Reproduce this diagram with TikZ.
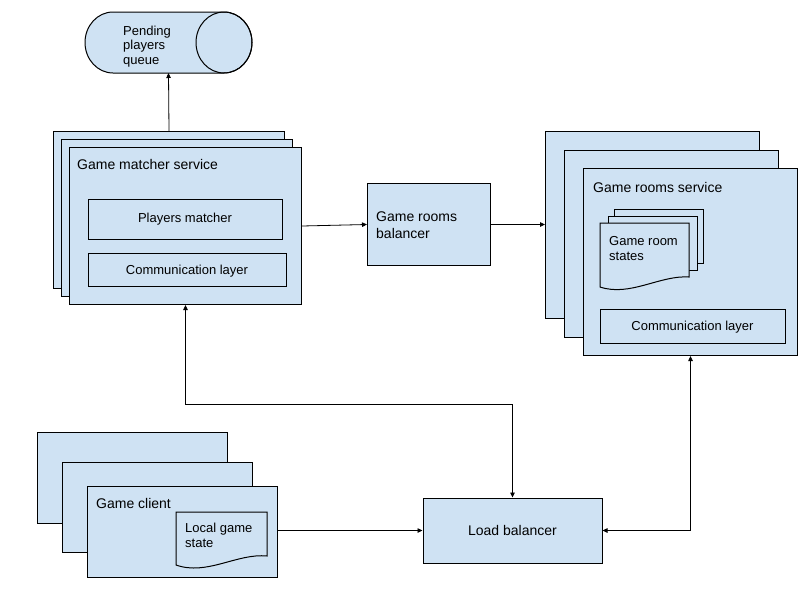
\documentclass[tikz,border=0pt]{standalone}
\usepackage{fontspec}
\setmainfont{Liberation Sans}
\usetikzlibrary{arrows.meta}
\definecolor{paleblue}{HTML}{CFE2F3}
\begin{document}
\begin{tikzpicture}[x=1pt,y=-1pt,
 box/.style={draw=black, fill=paleblue, line width=1pt, inner sep=0pt, anchor=north west},
 shapeline/.style={draw=black, fill=paleblue, line width=1pt},
 big/.style={inner sep=0pt, font=\fontsize{14}{17}\selectfont, align=left},
 small/.style={inner sep=0pt, font=\fontsize{13}{15}\selectfont, align=left},
 arr/.style={line width=0.8pt, -{Triangle[length=5pt,width=4.5pt]}},
 arrb/.style={line width=0.8pt, {Triangle[length=5pt,width=4.5pt]}-{Triangle[length=5pt,width=4.5pt]}}]
\useasboundingbox (0,0) rectangle (800,600);

% Pending players queue (horizontal cylinder)
\draw[shapeline] (113,12) -- (224,12) arc[start angle=-90,end angle=90,x radius=28,y radius=30.5]
  -- (113,73) arc[start angle=90,end angle=270,x radius=28,y radius=30.5] -- cycle;
\draw[line width=1pt] (224,42.5) ellipse[x radius=28,y radius=30.5];
\node[small, anchor=north west, font=\fontsize{13}{14.5}\selectfont] (queue) at (123,25.5) {Pending\\players\\queue};
\coordinate (queuebottom) at (168.5,73);

% Game matcher service stack
\node[box, minimum width=231, minimum height=157] (mback) at (53,131) {};
\node[box, minimum width=231, minimum height=157] (mmid) at (61,139) {};
\node[box, minimum width=232, minimum height=157] (mfront) at (69,147) {};
\node[big, anchor=base west] (mtitle) at (77,169.5) {Game matcher service};
\node[box, minimum width=194, minimum height=40, anchor=center, font=\fontsize{13}{15}\selectfont] (pmatch) at (185,219) {Players matcher};
\node[box, minimum width=198, minimum height=33, anchor=center, text depth=0pt, font=\fontsize{13}{15}\selectfont] (mcomm) at (187,269.5) {Communication layer};

% Game rooms balancer
\node[box, minimum width=123, minimum height=82] (bal) at (367,183) {};
\node[big, anchor=north west] (baltext) at (376,211.3) {Game rooms\\balancer};

% Game rooms service stack
\node[box, minimum width=214, minimum height=187] (rback) at (545,131) {};
\node[box, minimum width=214, minimum height=187] (rmid) at (564,150) {};
\node[box, minimum width=214, minimum height=187] (rfront) at (583,168) {};
\node[big, anchor=base west] (rtitle) at (593,192) {Game rooms service};
\node[box, minimum width=89, minimum height=54] (doc3) at (614,209) {};
\node[box, minimum width=89, minimum height=54] (doc2) at (608,216) {};
\draw[shapeline] (600,223) -- (689,223) -- (689,277) .. controls (660,275) and (630,297) .. (600,287) -- cycle;
\node[small, anchor=north west] (roomstates) at (609,236) {Game room\\states};
\node[box, minimum width=185, minimum height=34, anchor=center, text depth=0pt, font=\fontsize{13}{15}\selectfont] (rcomm) at (692.5,326) {Communication layer};

% Game client stack
\node[box, minimum width=190, minimum height=91] (cback) at (37,432) {};
\node[box, minimum width=190, minimum height=90] (cmid) at (62,462) {};
\node[box, minimum width=190, minimum height=91] (cfront) at (87,486) {};
\node[big, anchor=base west] (ctitle) at (96,508.3) {Game client};
\draw[shapeline] (176,512) -- (267,512) -- (267,556) .. controls (237,553) and (207,576) .. (176,565) -- cycle;
\node[small, anchor=north west] (localstate) at (185,523) {Local game\\state};

% Load balancer
\node[box, minimum width=179, minimum height=65, anchor=center, text depth=0pt, font=\fontsize{14}{17}\selectfont] (lb) at (512.5,530.5) {Load balancer};

% Connectors
\draw[arr] (mback.north) -- (queuebottom);
\draw[arr] (mfront.east) -- (bal.west);
\draw[arr] (bal.east) -- (bal.east -| rback.west);
\draw[arrb] (mfront.south) -- ++(0,99) -| (lb.north);
\draw[arrb] (rfront.south) |- (lb.east);
\draw[arr] (cfront.east |- lb.west) -- (lb.west);
\end{tikzpicture}
\end{document}
